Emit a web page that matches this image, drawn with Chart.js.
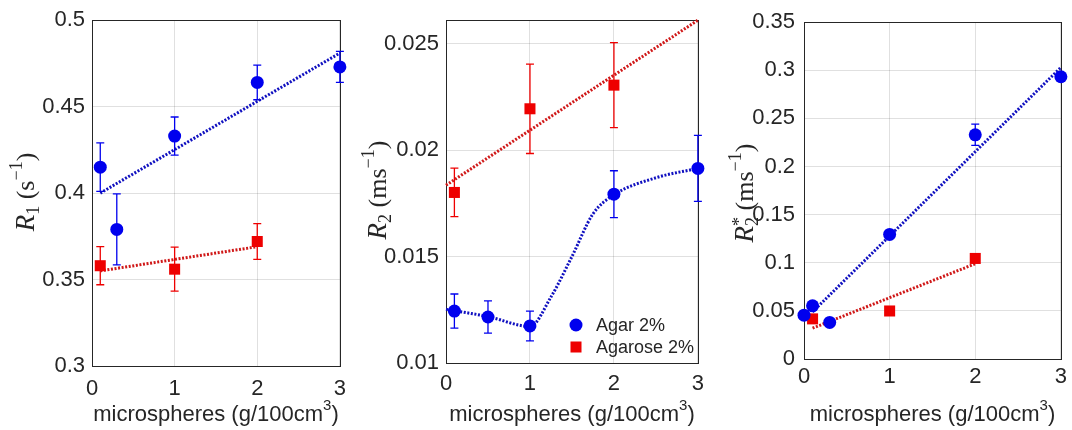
<!DOCTYPE html>
<html>
<head>
<meta charset="utf-8">
<script src="https://cdn.jsdelivr.net/npm/chart.js@4"></script>
<style>
  body { margin: 0; background: #fff; }
  .panel { position: absolute; top: 0; }
</style>
</head>
<body>
<div class="panel" style="left:0"><canvas id="c1" width="356" height="430"></canvas></div>
<div class="panel" style="left:356px"><canvas id="c2" width="356" height="430"></canvas></div>
<div class="panel" style="left:712px"><canvas id="c3" width="360" height="430"></canvas></div>
<script>
// x axis (microsphere concentration) shared by all panels
const xTicks = [0, 1, 2, 3];

// panel 1: R1 (s^-1)
const r1Ticks = [0.3, 0.35, 0.4, 0.45, 0.5];
const r1AgarX = [0.1, 0.3, 1, 2, 3];
const r1AgarY = [0.415, 0.379, 0.433, 0.464, 0.473];
const r1AgarErr = [0.014, 0.0205, 0.011, 0.010, 0.009];
const r1AgaroseX = [0.1, 1, 2];
const r1AgaroseY = [0.358, 0.356, 0.372];
const r1AgaroseErr = [0.011, 0.0127, 0.0103];
const r1AgarFitX = [0.1, 3];
const r1AgarFitY = [0.400, 0.481];
const r1AgaroseFitX = [0.1, 2];
const r1AgaroseFitY = [0.355, 0.369];

// panel 2: R2 (ms^-1)
const r2Ticks = [0.01, 0.015, 0.02, 0.025];
const r2AgarX = [0.1, 0.5, 1, 2, 3];
const r2AgarY = [0.01244, 0.01216, 0.01174, 0.01793, 0.01914];
const r2AgarErr = [0.0008, 0.00076, 0.0007, 0.0011, 0.00155];
const r2AgaroseX = [0.1, 1, 2];
const r2AgaroseY = [0.01801, 0.02194, 0.02305];
const r2AgaroseErr = [0.00114, 0.0021, 0.0020];
const r2AgarFitX = [0, 0.5, 1, 1.25, 1.5, 1.75, 2, 2.5, 3];
const r2AgarFitY = [0.01252, 0.01218, 0.01172, 0.0131, 0.0150, 0.0170, 0.0179, 0.0187, 0.01914];
const r2AgaroseFitX = [0, 3];
const r2AgaroseFitY = [0.01835, 0.0261];

// panel 3: R2* (ms^-1)
const r2sTicks = [0, 0.05, 0.1, 0.15, 0.2, 0.25, 0.3, 0.35];
const r2sAgarX = [0, 0.1, 0.3, 1, 2, 3];
const r2sAgarY = [0.0455, 0.0553, 0.038, 0.1295, 0.233, 0.2933];
const r2sAgarErr = [0.002, 0.003, 0.002, 0.003, 0.011, 0.004];
const r2sAgaroseX = [0.1, 1, 2];
const r2sAgaroseY = [0.0417, 0.0499, 0.1045];
const r2sAgaroseErr = [0.002, 0.002, 0.002];
const r2sAgarFitX = [0.1, 3];
const r2sAgarFitY = [0.049, 0.303];
const r2sAgaroseFitX = [0.1, 2];
const r2sAgaroseFitY = [0.032, 0.099];

const BLUE = '#0000ee';
const RED = '#ee0000';
const TXT = '#262626';
const SANS = '"Liberation Sans", Arial, sans-serif';
const SERIF = '"Liberation Serif", "DejaVu Serif", serif';

function pts(xs, ys) {
  return xs.map((x, i) => ({ x: x, y: ys[i] }));
}

function pointSet(xs, ys, err, color, style) {
  return {
    data: pts(xs, ys), err: err,
    backgroundColor: color, borderColor: color, borderWidth: 0,
    pointStyle: style, pointRadius: style === 'rect' ? 7.8 : 6.5,
    showLine: false, clip: false, order: 1
  };
}

function fitSet(xs, ys, color, smooth) {
  return {
    type: 'line', data: pts(xs, ys),
    borderColor: color, borderWidth: 3, borderDash: [2, 1.6],
    pointRadius: 0, fill: false, showLine: true, clip: false, order: 2,
    tension: smooth ? 0.4 : 0,
    cubicInterpolationMode: smooth ? 'monotone' : 'default'
  };
}

// error bars, drawn under the markers
const errorBars = {
  id: 'errorBars',
  beforeDatasetsDraw(chart) {
    const ctx = chart.ctx, xs = chart.scales.x, ys = chart.scales.y;
    chart.data.datasets.forEach(ds => {
      if (!ds.err) return;
      ctx.save();
      ctx.strokeStyle = ds.borderColor;
      ctx.lineWidth = 1.3;
      ds.data.forEach((p, i) => {
        const px = xs.getPixelForValue(p.x);
        const top = ys.getPixelForValue(p.y + ds.err[i]);
        const bot = ys.getPixelForValue(p.y - ds.err[i]);
        ctx.beginPath();
        ctx.moveTo(px, top); ctx.lineTo(px, bot);
        ctx.moveTo(px - 4, top); ctx.lineTo(px + 4, top);
        ctx.moveTo(px - 4, bot); ctx.lineTo(px + 4, bot);
        ctx.stroke();
      });
      ctx.restore();
    });
  }
};

// draws a run of text pieces (for sub/superscripts), optionally rotated
function drawRich(ctx, parts, cx, cy, rot) {
  let total = 0;
  parts.forEach(p => { ctx.font = p.font; p.w = ctx.measureText(p.t).width; if (!p.stack) total += p.w; });
  ctx.save();
  ctx.translate(cx, cy);
  ctx.rotate(rot);
  ctx.fillStyle = TXT;
  ctx.textBaseline = 'alphabetic';
  let x = -total / 2;
  parts.forEach(p => {
    ctx.font = p.font;
    ctx.fillText(p.t, x, p.dy || 0);
    if (!p.stack) x += p.w;
  });
  ctx.restore();
}

const xTitleParts = [
  { t: 'microspheres (g/100cm', font: '22px ' + SANS },
  { t: '3', font: '15px ' + SANS, dy: -11 },
  { t: ')', font: '22px ' + SANS }
];

// box around plot, axis titles, legend
const decor = {
  id: 'decor',
  beforeDatasetsDraw(chart) {
    const a = chart.chartArea, ctx = chart.ctx;
    ctx.save();
    ctx.strokeStyle = TXT;
    ctx.lineWidth = 1;
    ctx.strokeRect(Math.round(a.left) + 0.5, Math.round(a.top) + 0.5,
      Math.round(a.right - a.left), Math.round(a.bottom - a.top));
    ctx.restore();
  },
  afterDraw(chart, args, opts) {
    const a = chart.chartArea, ctx = chart.ctx;
    drawRich(ctx, xTitleParts, (a.left + a.right) / 2, 421, 0);
    drawRich(ctx, opts.yTitle, opts.yTitleX, opts.yTitleY, -Math.PI / 2);
    if (opts.legend) {
      const L = opts.legend;
      ctx.save();
      ctx.fillStyle = BLUE;
      ctx.beginPath(); ctx.arc(L.x, L.y, 6.5, 0, Math.PI * 2); ctx.fill();
      ctx.fillStyle = RED;
      ctx.fillRect(L.x - 5.5, L.y + L.gap - 5.5, 11, 11);
      ctx.fillStyle = TXT;
      ctx.font = '18px ' + SANS;
      ctx.textBaseline = 'middle';
      ctx.fillText('Agar 2%', L.x + 20, L.y + 1);
      ctx.fillText('Agarose 2%', L.x + 20, L.y + L.gap + 1);
      ctx.restore();
    }
  }
};

function yTitle(sub, star, unit) {
  const parts = [
    { t: 'R', font: 'italic 27px ' + SERIF, dy: 9 },
    { t: sub, font: '18px ' + SERIF, dy: 14, stack: !!star }
  ];
  if (star) parts.push({ t: '*', font: '18px ' + SERIF, dy: 1 });
  parts.push({ t: ' (' + unit, font: '26px ' + SERIF, dy: 9 });
  parts.push({ t: '\u22121', font: '18px ' + SERIF, dy: -3 });
  parts.push({ t: ')', font: '26px ' + SERIF, dy: 9 });
  return parts;
}

function makeChart(id, c) {
  return new Chart(document.getElementById(id), {
    type: 'scatter',
    data: { datasets: c.datasets },
    options: {
      responsive: false,
      animation: false,
      layout: { padding: { top: c.top, right: c.right, left: 0, bottom: 0 } },
      plugins: {
        legend: { display: false },
        tooltip: { enabled: false },
        decor: { yTitle: c.yTitle, yTitleX: c.yTitleX, yTitleY: c.yTitleY, legend: c.legend }
      },
      scales: {
        x: {
          type: 'linear', min: 0, max: 3,
          afterBuildTicks: s => { s.ticks = xTicks.map(v => ({ value: v })); },
          afterFit: s => { s.height = c.xh; },
          grid: { color: 'rgba(0,0,0,0.12)', drawTicks: false },
          border: { display: false },
          ticks: { padding: c.xpad, color: TXT, font: { family: SANS, size: 22 }, maxRotation: 0,
            callback: v => String(v) }
        },
        y: {
          type: 'linear', min: c.ymin, max: c.ymax,
          afterBuildTicks: s => { s.ticks = c.yTicks.map(v => ({ value: v })); },
          afterFit: s => { s.width = c.yw; },
          grid: { color: 'rgba(0,0,0,0.12)', drawTicks: false },
          border: { display: false },
          ticks: { padding: c.ypad, color: TXT, font: { family: SANS, size: 22 },
            callback: v => String(v) }
        }
      }
    },
    plugins: [decor, errorBars]
  });
}

makeChart('c1', {
  datasets: [
    pointSet(r1AgarX, r1AgarY, r1AgarErr, BLUE, 'circle'),
    pointSet(r1AgaroseX, r1AgaroseY, r1AgaroseErr, RED, 'rect'),
    fitSet(r1AgarFitX, r1AgarFitY, '#1010c0', false),
    fitSet(r1AgaroseFitX, r1AgaroseFitY, '#d01818', false)
  ],
  yTicks: r1Ticks, ymin: 0.3, ymax: 0.5,
  top: 20, right: 6, yw: 92, xh: 64, xpad: 10, ypad: 7,
  yTitle: yTitle('1', false, 's'), yTitleX: 25, yTitleY: 192
});

makeChart('c2', {
  datasets: [
    pointSet(r2AgarX, r2AgarY, r2AgarErr, BLUE, 'circle'),
    pointSet(r2AgaroseX, r2AgaroseY, r2AgaroseErr, RED, 'rect'),
    fitSet(r2AgarFitX, r2AgarFitY, '#1010c0', true),
    fitSet(r2AgaroseFitX, r2AgaroseFitY, '#d01818', false)
  ],
  yTicks: r2Ticks, ymin: 0.01, ymax: 0.0261,
  top: 19, right: 5, yw: 90, xh: 67, xpad: 8, ypad: 7,
  yTitle: yTitle('2', false, 'ms'), yTitleX: 21, yTitleY: 190,
  legend: { x: 220, y: 325, gap: 22 }
});

makeChart('c3', {
  datasets: [
    pointSet(r2sAgarX, r2sAgarY, r2sAgarErr, BLUE, 'circle'),
    pointSet(r2sAgaroseX, r2sAgaroseY, r2sAgaroseErr, RED, 'rect'),
    fitSet(r2sAgarFitX, r2sAgarFitY, '#1010c0', false),
    fitSet(r2sAgaroseFitX, r2sAgaroseFitY, '#d01818', false)
  ],
  yTicks: r2sTicks, ymin: 0, ymax: 0.35,
  top: 16, right: 8, yw: 92, xh: 71, xpad: 5, ypad: 9,
  yTitle: yTitle('2', true, 'ms'), yTitleX: 32, yTitleY: 193
});
</script>
</body>
</html>
